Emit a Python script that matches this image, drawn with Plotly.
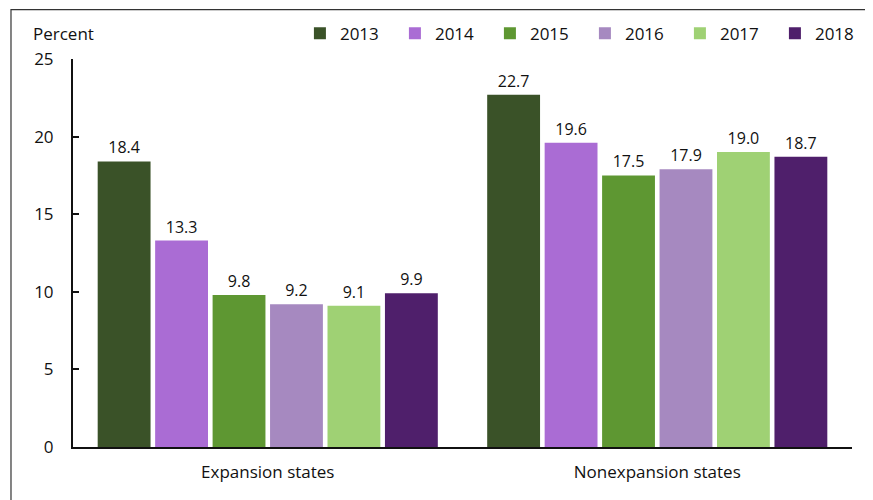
"""Grouped bar chart: percent by Medicaid expansion status, 2013-2018."""

import plotly.graph_objects as go

CATEGORIES = ["Expansion states", "Nonexpansion states"]
YEARS = ["2013", "2014", "2015", "2016", "2017", "2018"]
VALUES = {
    "2013": [18.4, 22.7],
    "2014": [13.3, 19.6],
    "2015": [9.8, 17.5],
    "2016": [9.2, 17.9],
    "2017": [9.1, 19.0],
    "2018": [9.9, 18.7],
}
COLORS = ["#3a5228", "#aa6cd4", "#5e9732", "#a689c0", "#9fd174", "#4f1f6b"]

FONT = "Open Sans, Lato, Arial"

fig = go.Figure()
for year, color in zip(YEARS, COLORS):
    fig.add_trace(
        go.Bar(
            x=CATEGORIES,
            y=VALUES[year],
            name=year,
            marker=dict(color=color, line=dict(width=0)),
            text=[f"{v:.1f}" for v in VALUES[year]],
            textposition="outside",
            textfont=dict(size=16, color="#111111"),
            cliponaxis=False,
        )
    )

fig.update_layout(
    width=873,
    height=500,
    barmode="group",
    bargap=0.115,
    bargroupgap=0.08,
    margin=dict(l=65, r=29, t=51, b=61, autoexpand=False),
    paper_bgcolor="white",
    plot_bgcolor="white",
    font=dict(family=FONT, size=17, color="#111111"),
    showlegend=True,
    legend=dict(
        orientation="h",
        x=1.023,
        xanchor="right",
        y=1.065,
        yanchor="middle",
        font=dict(size=17),
        itemwidth=30,
        entrywidth=50,
        traceorder="normal",
        bgcolor="rgba(0,0,0,0)",
    ),
    annotations=[
        dict(
            text="Percent",
            xref="paper",
            yref="paper",
            x=-0.054,
            y=1.065,
            xanchor="left",
            yanchor="middle",
            showarrow=False,
            font=dict(size=17),
        )
    ],
    shapes=[
        dict(
            type="rect",
            xref="paper",
            yref="paper",
            x0=-0.0796,
            x1=1.0244,
            y0=-0.25,
            y1=1.127,
            line=dict(color="#333333", width=1.2),
            fillcolor="rgba(0,0,0,0)",
            layer="below",
        )
    ],
)
fig.update_xaxes(
    showline=True,
    linecolor="#111111",
    linewidth=2,
    ticks="",
    showgrid=False,
    tickfont=dict(size=17),
    ticklabelstandoff=9,
)
fig.update_yaxes(
    range=[0, 25],
    dtick=5,
    showline=True,
    linecolor="#111111",
    linewidth=2,
    ticks="inside",
    ticklen=6,
    tickwidth=2,
    tickcolor="#111111",
    showgrid=False,
    zeroline=False,
    ticklabelstandoff=14,
    tickfont=dict(size=17),
)

fig.write_html("out.html")
